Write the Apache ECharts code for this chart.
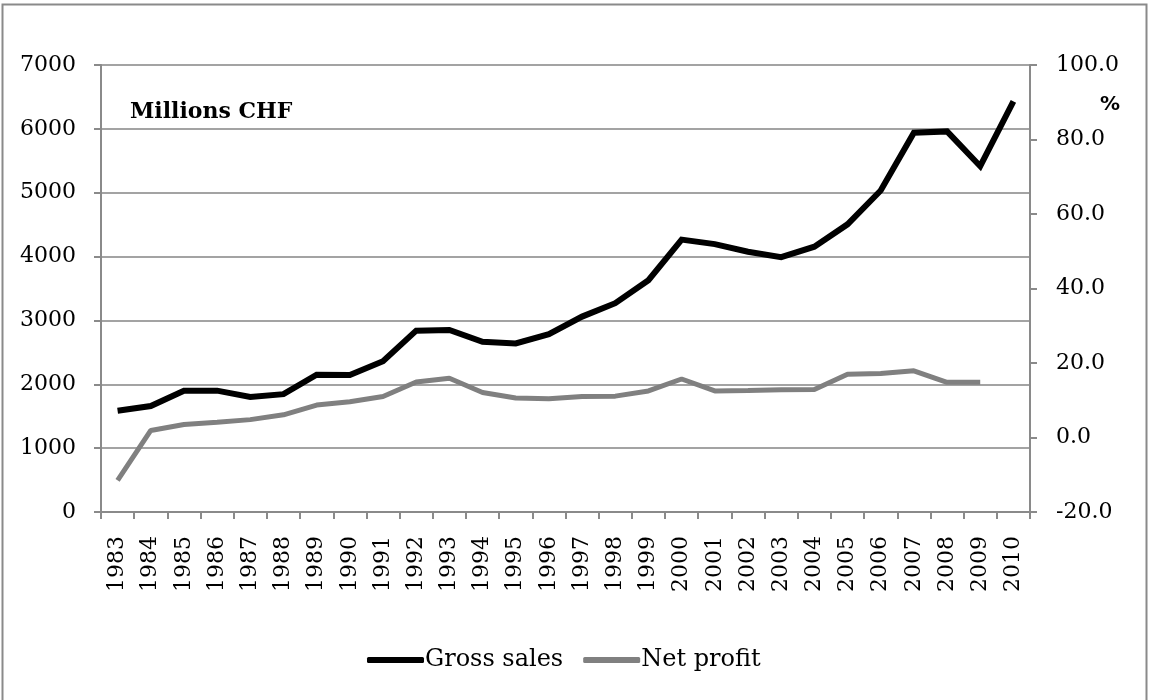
<!DOCTYPE html>
<html>
<head>
<meta charset="utf-8">
<script src="https://cdn.jsdelivr.net/npm/echarts@6/dist/echarts.min.js"></script>
<style>
html,body{margin:0;padding:0;background:#fff;}
#chart{width:1149px;height:700px;}
</style>
</head>
<body>
<div id="chart"></div>
<script>
const years = ['1983','1984','1985','1986','1987','1988','1989','1990','1991','1992','1993','1994','1995','1996','1997','1998','1999','2000','2001','2002','2003','2004','2005','2006','2007','2008','2009','2010'];
const grossSales = [1585,1660,1900,1900,1800,1845,2150,2145,2360,2840,2850,2665,2640,2785,3060,3270,3630,4265,4195,4075,3990,4155,4505,5035,5940,5960,5415,6430];
const netProfit = [-11.5,1.9,3.5,4.1,4.8,6.1,8.7,9.6,11.0,14.9,15.9,12.1,10.6,10.4,11.0,11.1,12.5,15.7,12.5,12.6,12.8,12.9,17.0,17.2,17.9,14.8,14.8,null];
const leftTicks = {min:0, max:7000, interval:1000};
const rightTicks = {min:-20, max:100, interval:20};

const FONT = 'DejaVu Serif';
const axisGray = '#8a8a8a';
const chart = echarts.init(document.getElementById('chart'));
chart.setOption({
  backgroundColor:'#fff',
  animation:false,
  grid:{left:101, right:119, top:65, bottom:188},
  legend:{
    data:['Gross sales','Net profit'],
    left:362, top:643,
    itemWidth:57, itemHeight:6, itemGap:20,
    icon:'roundRect',
    textStyle:{fontFamily:FONT, fontSize:24, color:'#000', padding:[0,0,0,-4]}
  },
  graphic:[
    {type:'rect', shape:{x:2.5, y:4.5, width:1144, height:720}, style:{fill:'none', stroke:'#8a8a8a', lineWidth:2}, silent:true},
    {type:'text', left:130, top:101, style:{text:'Millions CHF', font:'bold 22px "DejaVu Serif"', fill:'#000'}},
    {type:'text', left:1100, top:95, style:{text:'%', font:'bold 20px "DejaVu Sans"', fill:'#000'}}
  ],
  xAxis:{
    type:'category', data:years, boundaryGap:true,
    axisLine:{lineStyle:{color:axisGray, width:2}},
    axisTick:{show:true, length:7, lineStyle:{color:axisGray, width:2}, alignWithLabel:false},
    axisLabel:{rotate:90, interval:0, margin:24, fontFamily:FONT, fontSize:22, color:'#000'}
  },
  yAxis:[
    {type:'value', position:'left', min:leftTicks.min, max:leftTicks.max, interval:leftTicks.interval,
     axisLine:{show:true, lineStyle:{color:axisGray, width:2}},
     axisTick:{show:true, length:7, lineStyle:{color:axisGray, width:2}},
     splitLine:{show:true, lineStyle:{color:'#a3a3a3', width:2}},
     axisLabel:{margin:25, fontFamily:FONT, fontSize:22, color:'#000', formatter:v=>String(v)}},
    {type:'value', position:'right', min:rightTicks.min, max:rightTicks.max, interval:rightTicks.interval,
     axisLine:{show:true, lineStyle:{color:axisGray, width:2}},
     axisTick:{show:true, length:7, lineStyle:{color:axisGray, width:2}},
     splitLine:{show:false},
     axisLabel:{margin:26, fontFamily:FONT, fontSize:22, color:'#000', formatter:v=>v.toFixed(1)}}
  ],
  series:[
    {name:'Gross sales', type:'line', yAxisIndex:0, data:grossSales, showSymbol:false, symbol:'none',
     itemStyle:{color:'#000'}, lineStyle:{color:'#000', width:6, join:'miter'}},
    {name:'Net profit', type:'line', yAxisIndex:1, data:netProfit, showSymbol:false, symbol:'none',
     itemStyle:{color:'#808080'}, lineStyle:{color:'#808080', width:5}}
  ]
});
</script>
</body>
</html>
